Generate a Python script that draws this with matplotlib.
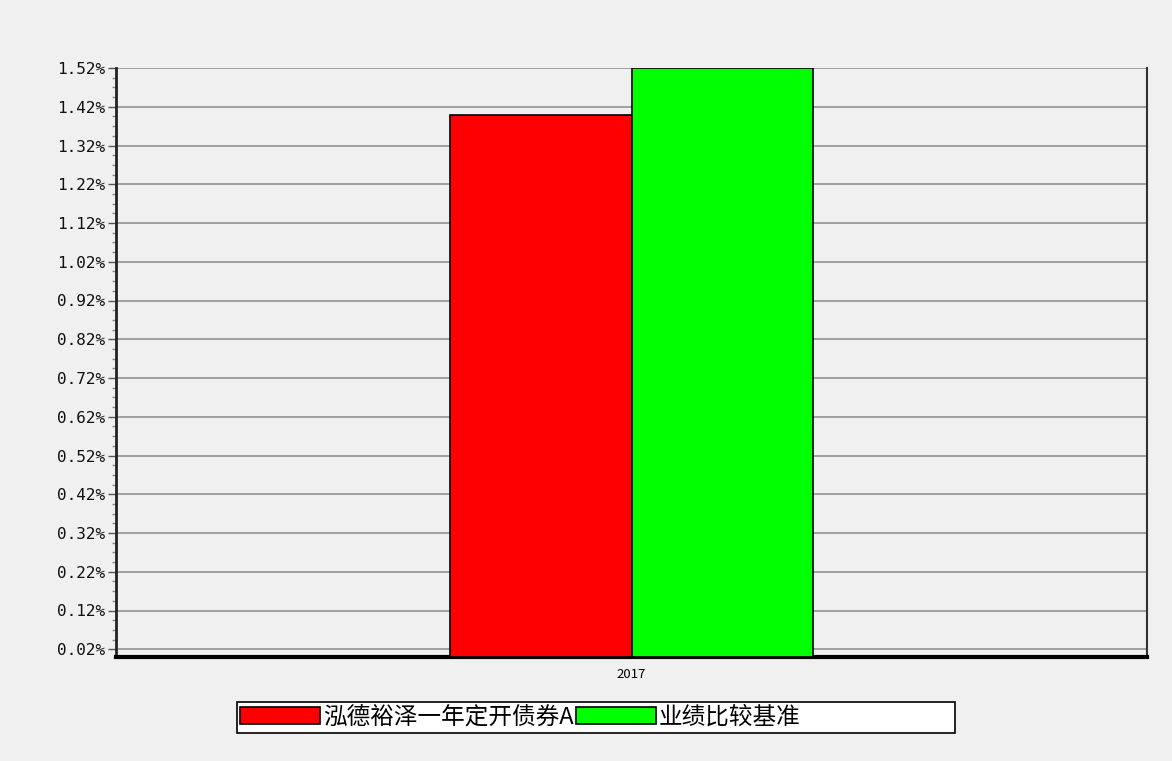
import matplotlib
matplotlib.use("Agg")
import matplotlib.pyplot as plt
import numpy as np
from matplotlib.patches import Rectangle
from matplotlib.ticker import FixedLocator

plt.rcParams['font.family'] = ['Noto Sans CJK SC', 'DejaVu Sans']

categories = ["2017"]
series_names = ["泓德裕泽一年定开债券A", "业绩比较基准"]
fund_values = [1.40]
bench_values = [1.52]
yticks = [0.02, 0.12, 0.22, 0.32, 0.42, 0.52, 0.62, 0.72, 0.82, 0.92, 1.02, 1.12, 1.22, 1.32, 1.42, 1.52]

bg = "#f0f0f0"
fig = plt.figure(figsize=(11.72, 7.61), dpi=100, facecolor=bg)
ax = fig.add_axes([116/1172, 1-657/761, (1147-116)/1172, (657-68)/761])
ax.set_facecolor(bg)

x = np.arange(len(categories))
w = 0.1765
b1 = ax.bar(x - w/2, fund_values, w, color="#ff0000", edgecolor="#000000", linewidth=1.2, label=series_names[0], zorder=3)
b2 = ax.bar(x + w/2, bench_values, w, color="#00ff00", edgecolor="#000000", linewidth=1.2, label=series_names[1], zorder=3)

ax.set_xlim(-0.5, 0.5)
ax.set_ylim(0.0, 1.52)
ax.yaxis.set_major_locator(FixedLocator(yticks))
ax.set_yticklabels([f"{v:.2f}%" for v in yticks], family=['DejaVu Sans Mono'], fontsize=11.5, color="#111111")
ax.yaxis.set_minor_locator(FixedLocator([v + k*0.025 for v in [-0.08] + yticks for k in (1, 2, 3) if 0 < v + k*0.025 < 1.52]))
ax.set_xticks(x)
ax.set_xticklabels(categories, fontsize=9.5)
ax.tick_params(axis='y', which='major', length=6, width=1, color="#555555", pad=2)
ax.tick_params(axis='y', which='minor', length=3, width=1, color="#888888")
ax.tick_params(axis='x', length=0, pad=8)
ax.grid(axis='y', which='major', color="#999999", linewidth=1.3, zorder=1)
ax.set_axisbelow(True)

ax.spines['left'].set_color("#222222")
ax.spines['left'].set_linewidth(2)
ax.spines['bottom'].set_color("#000000")
ax.spines['bottom'].set_linewidth(3)
ax.spines['right'].set_color("#333333")
ax.spines['right'].set_linewidth(1.5)
ax.spines['top'].set_visible(False)

# legend box
fig.patches.append(Rectangle((237/1172, 1-733/761), 718/1172, 31/761, transform=fig.transFigure,
                             facecolor="white", edgecolor="#000000", linewidth=1.2, zorder=0))
leg = fig.legend(handles=[b1, b2], labels=series_names, loc="center left",
                 bbox_to_anchor=(240/1172, 1-717.5/761), ncol=2, frameon=False,
                 fontsize=17, handlelength=3.4, handleheight=0.76, handletextpad=0.1,
                 columnspacing=0.1, borderpad=0, borderaxespad=0)

fig.savefig("out.png", dpi=100, facecolor=bg)
